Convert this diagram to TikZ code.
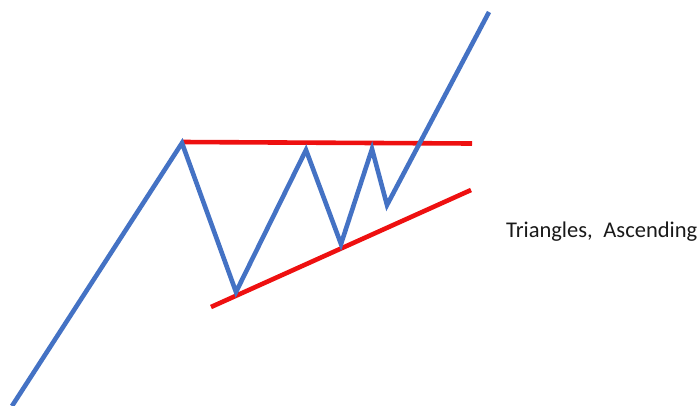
\documentclass[tikz,border=0pt]{standalone}
\usepackage{fontspec}
\setmainfont{Carlito}
\definecolor{priceblue}{RGB}{68,114,196}
\definecolor{trendred}{RGB}{238,16,16}
\begin{document}
\begin{tikzpicture}[x=1pt,y=-1pt,
  price/.style={draw=priceblue,line width=4.6pt,line join=miter,miter limit=10},
  trend/.style={draw=trendred,line width=4.6pt},
  lbl/.style={font=\fontsize{22.5}{27}\selectfont,text=black!90,inner sep=0pt}]
\useasboundingbox (0,0) rectangle (700,405);
\coordinate (p0) at (12,406);
\coordinate (p1) at (182,143);
\coordinate (p2) at (236,292);
\coordinate (p3) at (306,150);
\coordinate (p4) at (341,244);
\coordinate (p5) at (372,149);
\coordinate (p6) at (387,205);
\coordinate (p7) at (489,12);
\coordinate (r1) at (182,142);
\coordinate (r2) at (472,143.5);
\coordinate (s1) at (211,307);
\coordinate (s2) at (471,190);
\draw[trend] (r1) -- (r2);
\draw[trend] (s1) -- (s2);
\draw[price] (p0) -- (p1) -- (p2) -- (p3) -- (p4) -- (p5) -- (p6) -- (p7);
\node[lbl,anchor=west] (t) at (506,232) {Triangles,\hspace{0.25em} Ascending};
\end{tikzpicture}
\end{document}
